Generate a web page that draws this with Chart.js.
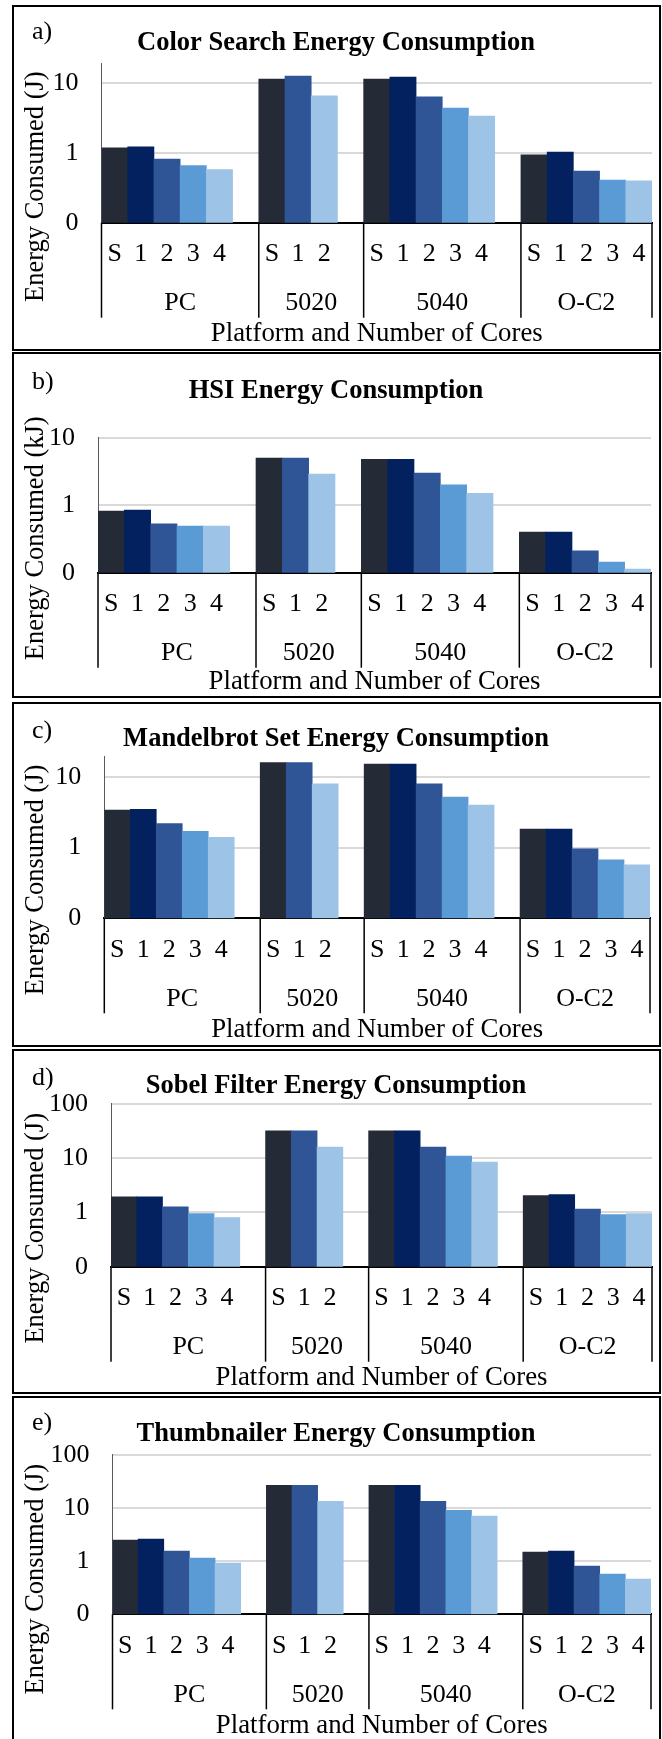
<!DOCTYPE html>
<html lang="en">
<head>
  <meta charset="UTF-8" />
  <title>Energy Consumption by Platform</title>
  <script src="https://cdn.jsdelivr.net/npm/chart.js"></script>
  <style>
    body {
      margin: 0;
      background: #fff;
      width: 662px;
      height: 1739px;
      position: relative;
      overflow: hidden;
    }
    .panel {
      position: absolute;
      left: 12px;
      width: 649px;
      border: 2px solid #000;
      box-sizing: border-box;
    }
    canvas {
      position: absolute;
      left: 0;
    }
  </style>
</head>
<body>
  <script>
    // x categories: cores per platform, with a blank slot closing the first three groups
    const coreLabels = ['S', '1', '2', '3', '4', '', 'S', '1', '2', '', 'S', '1', '2', '3', '4', '', 'S', '1', '2', '3', '4'];
    const platforms = ['PC', '5020', '5040', 'O-C2'];
    const platformSlots = [6, 4, 6, 5];

    // energy values (log axis)
    const colorSearch = [1.19, 1.23, 0.82, 0.66, 0.58, null, 11.5, 12.7, 6.6, null, 11.5, 12.3, 6.4, 4.4, 3.4, null, 0.94, 1.03, 0.55, 0.41, 0.40];
    const hsi = [0.82, 0.85, 0.53, 0.49, 0.49, null, 5.0, 5.0, 2.9, null, 4.8, 4.8, 3.0, 2.0, 1.5, null, 0.40, 0.40, 0.21, 0.144, 0.113];
    const mandelbrot = [3.4, 3.5, 2.2, 1.7, 1.4, null, 16.0, 16.0, 8.0, null, 15.3, 15.3, 8.0, 5.2, 4.0, null, 1.84, 1.84, 0.96, 0.67, 0.57];
    const sobel = [1.94, 1.94, 1.27, 0.95, 0.80, null, 31.8, 31.8, 15.9, null, 31.8, 31.8, 15.9, 10.9, 8.4, null, 2.03, 2.12, 1.15, 0.91, 0.95];
    const thumbnailer = [2.48, 2.58, 1.54, 1.14, 0.92, null, 26.6, 26.6, 13.3, null, 26.6, 26.6, 13.3, 9.0, 7.0, null, 1.47, 1.54, 0.81, 0.57, 0.46];

    const smallTicks = [0.1, 1, 10];
    const smallTickLabels = ['0', '1', '10'];
    const bigTicks = [0.1, 1, 10, 100];
    const bigTickLabels = ['0', '1', '10', '100'];

    const dark = '#252b36', navy = '#03215f', med = '#2f5597', mid = '#5b9bd5', light = '#9dc3e6';
    const barColors = [dark, navy, med, mid, light, null, dark, med, light, null, dark, navy, med, mid, light, null, dark, navy, med, mid, light];

    const FONT = '"Liberation Serif", "Times New Roman", serif';
    Chart.defaults.font.family = FONT;
    Chart.defaults.color = '#000';

    // page layout of each panel (pixels)
    const panels = [
      { letter: 'a)', title: 'Color Search Energy Consumption', yTitle: 'Energy Consumed (J)', values: colorSearch,
        ticks: smallTicks, tickLabels: smallTickLabels, yMax: 19.4,
        top: 5, height: 346, left: 101.5, right: 652, plotTop: 58.3, base: 217.7,
        titleBase: 46.7, letterBase: 34, yTitleMid: 181.7, xTitleDy: 118 },
      { letter: 'b)', title: 'HSI Energy Consumption', yTitle: 'Energy Consumed (kJ)', values: hsi,
        ticks: smallTicks, tickLabels: smallTickLabels, yMax: 10,
        top: 352, height: 346, left: 98, right: 651, plotTop: 85.7, base: 220.7,
        titleBase: 48, letterBase: 37, yTitleMid: 186.3, xTitleDy: 116 },
      { letter: 'c)', title: 'Mandelbrot Set Energy Consumption', yTitle: 'Energy Consumed (J)', values: mandelbrot,
        ticks: smallTicks, tickLabels: smallTickLabels, yMax: 19.4,
        top: 702, height: 345, left: 104.3, right: 650, plotTop: 54.7, base: 216.3,
        titleBase: 45.7, letterBase: 36, yTitleMid: 178, xTitleDy: 118.4 },
      { letter: 'd)', title: 'Sobel Filter Energy Consumption', yTitle: 'Energy Consumed (J)', values: sobel,
        ticks: bigTicks, tickLabels: bigTickLabels, yMax: 100,
        top: 1049, height: 345, left: 111, right: 652, plotTop: 54.7, base: 217.7,
        titleBase: 46, letterBase: 36, yTitleMid: 179.3, xTitleDy: 118.3 },
      { letter: 'e)', title: 'Thumbnailer Energy Consumption', yTitle: 'Energy Consumed (J)', values: thumbnailer,
        ticks: bigTicks, tickLabels: bigTickLabels, yMax: 100,
        top: 1396, height: 343, left: 112.5, right: 651, plotTop: 58.7, base: 218.3,
        titleBase: 47, letterBase: 34, yTitleMid: 183.2, xTitleDy: 119 }
    ];

    function makePanel(p) {
      const box = document.createElement('div');
      box.className = 'panel';
      box.style.top = p.top + 'px';
      box.style.height = (p.top > 1300 ? 360 : p.height) + 'px';
      document.body.appendChild(box);

      const canvas = document.createElement('canvas');
      canvas.width = 662;
      canvas.height = p.height;
      canvas.style.top = p.top + 'px';
      document.body.appendChild(canvas);

      const titleSize = 26.5;
      const padRight = 662 - p.right;
      const padLeft = 10 + padRight; // keeps the title centred on the panel
      const titleTop = p.titleBase - 0.3375 * titleSize - titleSize * 0.6;
      const titleBottom = p.plotTop - titleTop - titleSize * 1.2;

      const decor = {
        id: 'decor',
        afterDraw(chart) {
          const { ctx, chartArea } = chart;
          const xs = chart.scales.x;
          const half = (xs.getPixelForValue(1) - xs.getPixelForValue(0)) / 2;
          ctx.save();
          ctx.fillStyle = '#000';
          ctx.strokeStyle = '#000';
          ctx.lineWidth = 1.5;
          ctx.font = '26px ' + FONT;
          ctx.textBaseline = 'alphabetic';

          ctx.textAlign = 'left';
          ctx.fillText(p.letter, 32, p.letterBase);

          // group separators and platform names
          ctx.textAlign = 'center';
          let start = 0;
          const drawSep = (x) => {
            ctx.beginPath();
            ctx.moveTo(x, chartArea.bottom);
            ctx.lineTo(x, chartArea.bottom + 95);
            ctx.stroke();
          };
          platforms.forEach((name, i) => {
            const x0 = xs.getPixelForValue(start) - half;
            const x1 = xs.getPixelForValue(start + platformSlots[i] - 1) + half;
            drawSep(x0);
            ctx.fillText(name, (x0 + x1) / 2, chartArea.bottom + 87.3);
            start += platformSlots[i];
          });
          drawSep(chartArea.right);

          ctx.font = '26.8px ' + FONT;
          ctx.fillText('Platform and Number of Cores', (chartArea.left + chartArea.right) / 2, chartArea.bottom + p.xTitleDy);

          ctx.font = '26.5px ' + FONT;
          ctx.translate(42.5, p.yTitleMid);
          ctx.rotate(-Math.PI / 2);
          ctx.fillText(p.yTitle, 0, 0);
          ctx.restore();
        }
      };

      new Chart(canvas, {
        type: 'bar',
        data: {
          labels: coreLabels,
          datasets: [{
            data: p.values,
            backgroundColor: barColors,
            borderWidth: 0,
            barPercentage: 1,
            categoryPercentage: 1
          }]
        },
        options: {
          responsive: false,
          animation: false,
          devicePixelRatio: 1,
          layout: { padding: { left: padLeft, right: padRight, top: 0, bottom: 0 } },
          plugins: {
            legend: { display: false },
            tooltip: { enabled: false },
            title: {
              display: true,
              text: p.title,
              font: { size: titleSize, weight: 'bold', family: FONT },
              color: '#000',
              padding: { top: titleTop, bottom: titleBottom }
            }
          },
          scales: {
            x: {
              grid: { display: false, drawTicks: false },
              border: { display: true, color: '#000', width: 2 },
              ticks: { font: { size: 26 }, color: '#000', padding: 16, autoSkip: false, maxRotation: 0 },
              afterFit(scale) { scale.height = p.height - p.base; }
            },
            y: {
              type: 'logarithmic',
              min: 0.1,
              max: p.yMax,
              afterBuildTicks(scale) { scale.ticks = p.ticks.map(v => ({ value: v })); },
              afterFit(scale) { scale.width = p.left - padLeft; },
              grid: {
                drawTicks: false,
                lineWidth: 2,
                color: (c) => (c.tick && c.tick.value === 0.1 ? 'rgba(0,0,0,0)' : '#d9d9d9')
              },
              border: { display: true, color: '#595959', width: 1 },
              ticks: {
                font: { size: 26 },
                color: '#000',
                padding: 23,
                callback: (value, index) => p.tickLabels[index]
              }
            }
          }
        },
        plugins: [decor]
      });
    }

    panels.forEach(makePanel);
  </script>
</body>
</html>
